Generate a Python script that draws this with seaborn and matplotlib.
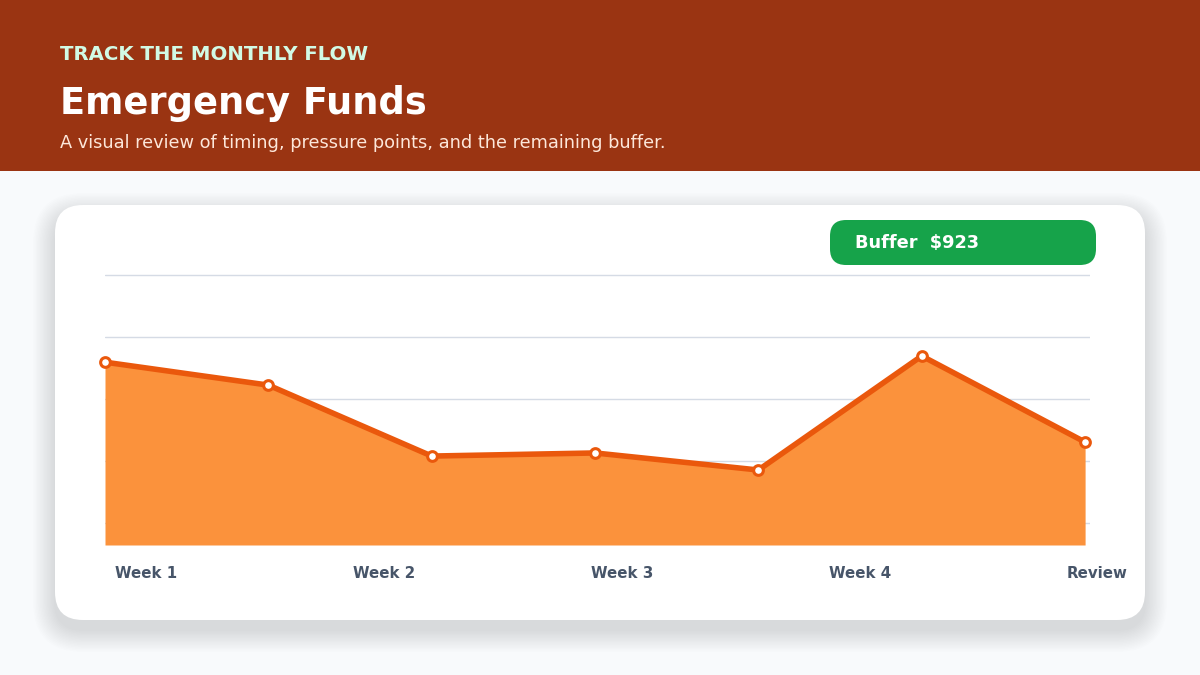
import numpy as np
import matplotlib
matplotlib.use("Agg")
import matplotlib.pyplot as plt
from matplotlib.patches import FancyBboxPatch, Rectangle
import seaborn as sns

# data
points = [0, 1, 2, 3, 4, 5, 6]
balance = [719, 645, 416, 426, 371, 739, 461]
period_labels = ["Week 1", "Week 2", "Week 3", "Week 4", "Review"]
buffer_amount = 923

sns.set_theme(style="white")
plt.rcParams["font.family"] = ["DejaVu Sans"]

fig = plt.figure(figsize=(12, 6.75), dpi=100)
fig.patch.set_facecolor("#f8fafc")

# background layer in pixel units
bg = fig.add_axes([0, 0, 1, 1], zorder=0)
bg.set_xlim(0, 1200)
bg.set_ylim(675, 0)
bg.axis("off")

bg.add_patch(Rectangle((0, 0), 1200, 171, color="#9a3412", lw=0))

# soft shadow under the card
for i in range(16):
    s = 1 + i * 1.4
    bg.add_patch(FancyBboxPatch((55 - s, 205 - s + 10), 1090 + 2 * s, 415 + 2 * s,
                                boxstyle="round,pad=0,rounding_size=%f" % (28 + s),
                                fc="#0f172a", ec="none", alpha=0.006))
bg.add_patch(FancyBboxPatch((55, 205), 1090, 415,
                            boxstyle="round,pad=0,rounding_size=28",
                            fc="white", ec="none"))

bg.text(60, 54, "TRACK THE MONTHLY FLOW", color="#d1fae5", fontsize=14.2,
        fontweight="bold", va="center", ha="left")
bg.text(60, 104, "Emergency Funds", color="white", fontsize=26.5,
        fontweight="bold", va="center", ha="left")
bg.text(60, 143, "A visual review of timing, pressure points, and the remaining buffer.",
        color="#fde7da", fontsize=12.8, va="center", ha="left")

# buffer pill
bg.add_patch(FancyBboxPatch((830, 220), 266, 45,
                            boxstyle="round,pad=0,rounding_size=16",
                            fc="#16a34a", ec="none"))
bg.text(855, 243, "Buffer  $%d" % buffer_amount, color="white", fontsize=12.8,
        fontweight="bold", va="center", ha="left")

# period labels spread across the card
label_x = 115 + 238 * np.arange(len(period_labels))
for lx, lab in zip(label_x, period_labels):
    bg.text(lx, 574, lab, color="#475569", fontsize=10.8, fontweight="bold",
            va="center", ha="left")

# chart
ax = fig.add_axes([105 / 1200, (675 - 545) / 675, 985 / 1200, 273 / 675], zorder=1)
ax.set_facecolor("none")
ax.set_xlim(0, 6.03)
ax.set_ylim(129, 1010)
ax.set_yticks([200, 400, 600, 800, 1000])
ax.yaxis.grid(True, color="#d5dbe5", lw=1)
ax.set_axisbelow(True)
ax.set_xticks([])
ax.tick_params(left=False, labelleft=False)
for sp in ax.spines.values():
    sp.set_visible(False)

ax.fill_between(points, balance, 129, color="#fb923c", lw=0, zorder=2)
sns.lineplot(x=points, y=balance, ax=ax, color="#ea580c", lw=4,
             marker="o", markersize=7, markerfacecolor="white",
             markeredgecolor="#ea580c", markeredgewidth=2.2, zorder=3,
             clip_on=False)
ax.set_xlabel("")
ax.set_ylabel("")

fig.savefig("out.png", dpi=100, facecolor=fig.get_facecolor())
